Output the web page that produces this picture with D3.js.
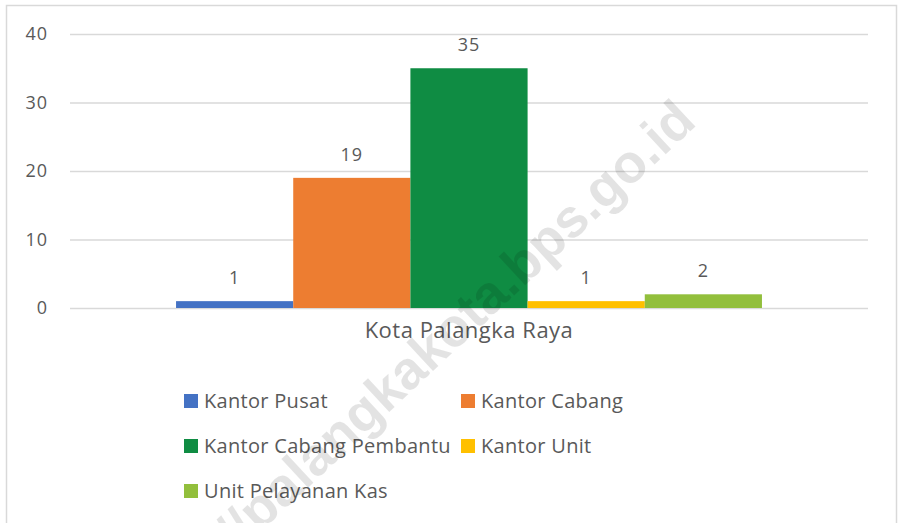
<!DOCTYPE html>
<head>
  <meta charset="utf-8">
  <title>Kota Palangka Raya</title>
  <script src="https://d3js.org/d3.v7.min.js"></script>
  <style>
    body { margin: 0; background: #fff; }
    text { font-family: "Open Sans", sans-serif; fill: #595959; }
  </style>
</head>
<body>
<svg width="898" height="523"></svg>

<script type="text/javascript">

var categories = ["Kota Palangka Raya"];
var seriesNames = ["Kantor Pusat", "Kantor Cabang", "Kantor Cabang Pembantu", "Kantor Unit", "Unit Pelayanan Kas"];
var seriesValues = [1, 19, 35, 1, 2];
var seriesColors = ["#4472C4", "#ED7D31", "#0F8C43", "#FFC000", "#92BF3C"];
var yTicks = [0, 10, 20, 30, 40];

var svg = d3.select("svg");
// note: "top" is taken by window.top, so use plot* names
var plotLeft = 70, plotRight = 868, plotTop = 34, plotBottom = 308;

// chart frame
svg.append("rect")
  .attr("x", 6.5).attr("y", 5.5)
  .attr("width", 890).attr("height", 540)
  .attr("fill", "none")
  .attr("stroke", "#d9d9d9")
  .attr("stroke-width", 1.5);

var y = d3.scaleLinear().domain([0, 40]).range([plotBottom, plotTop]);

var x0 = d3.scaleBand().domain(categories).range([plotLeft, plotRight])
  .paddingInner(0).paddingOuter(0.181);
var x1 = d3.scaleBand().domain(seriesNames).range([0, x0.bandwidth()]).padding(0);

// gridlines + tick labels
var yAxis = svg.append("g")
  .attr("transform", "translate(" + plotLeft + ",0)")
  .call(d3.axisLeft(y).tickValues(yTicks).tickSize(-(plotRight - plotLeft)).tickPadding(22));
yAxis.select(".domain").remove();
yAxis.selectAll("line").attr("stroke", "#d9d9d9").attr("stroke-width", 1.5);
yAxis.selectAll("text")
  .style("font-family", "'Open Sans', sans-serif")
  .style("font-size", "18px")
  .style("letter-spacing", "1px")
  .attr("fill", "#595959");

var rows = seriesNames.map(function(d, i) {
  return { name: d, value: seriesValues[i], color: seriesColors[i], cat: categories[0] };
});

var bars = svg.append("g");
bars.selectAll("rect")
  .data(rows)
  .enter().append("rect")
    .attr("x", function(d) { return x0(d.cat) + x1(d.name); })
    .attr("y", function(d) { return y(d.value); })
    .attr("width", x1.bandwidth())
    .attr("height", function(d) { return y(0) - y(d.value); })
    .attr("fill", function(d) { return d.color; });

bars.selectAll("text")
  .data(rows)
  .enter().append("text")
    .attr("x", function(d) { return x0(d.cat) + x1(d.name) + x1.bandwidth() / 2; })
    .attr("y", function(d) { return y(d.value) - 17; })
    .attr("text-anchor", "middle")
    .style("font-size", "18px")
    .style("letter-spacing", "1px")
    .text(function(d) { return d.value; });

// category label
svg.append("text")
  .attr("x", x0(categories[0]) + x0.bandwidth() / 2)
  .attr("y", 338)
  .attr("text-anchor", "middle")
  .style("font-size", "22px")
  .style("letter-spacing", "0.5px")
  .text(categories[0]);

// legend, two columns
var legend = svg.append("g").selectAll("g")
  .data(rows)
  .enter().append("g")
    .attr("transform", function(d, i) {
      return "translate(" + (i % 2 == 0 ? 184 : 461) + "," + (394 + Math.floor(i / 2) * 45) + ")";
    });
legend.append("rect")
  .attr("width", 14).attr("height", 14)
  .attr("fill", function(d) { return d.color; });
legend.append("text")
  .attr("x", 20).attr("y", 14)
  .style("font-size", "20px")
  .style("letter-spacing", "0.3px")
  .text(function(d) { return d.name; });

// watermark
svg.append("text")
  .attr("transform", "translate(698,124) rotate(-43)")
  .attr("text-anchor", "end")
  .style("font-family", "'Liberation Sans', Arial, sans-serif")
  .style("font-weight", "bold")
  .style("font-size", "54px")
  .style("fill", "#000")
  .style("fill-opacity", 0.11)
  .text("https://palangkakota.bps.go.id");

</script>
</body>
</html>
